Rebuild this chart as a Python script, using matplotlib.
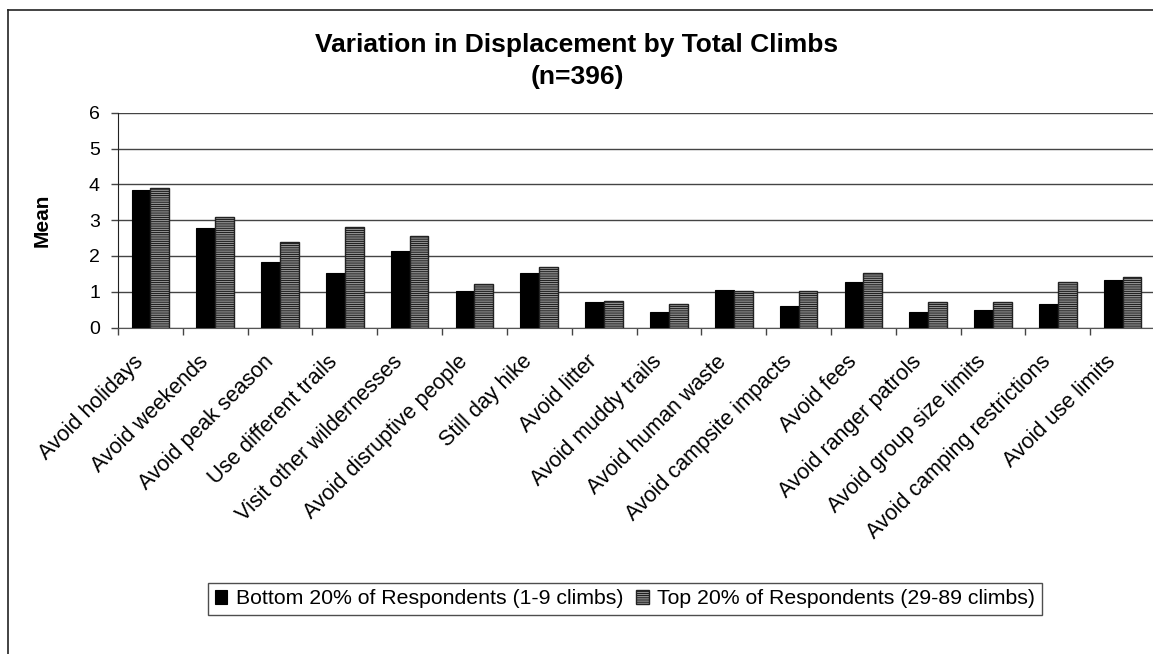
import matplotlib
matplotlib.use('Agg')
import matplotlib.pyplot as plt
from matplotlib.lines import Line2D
from matplotlib.transforms import ScaledTranslation
import numpy as np

plt.rcParams['font.family'] = ['Liberation Sans', 'DejaVu Sans']
plt.rcParams['hatch.color'] = '#3a3a3a'
plt.rcParams['hatch.linewidth'] = 0.9

# Mean displacement score per coping behaviour
categories = ['Avoid holidays', 'Avoid weekends', 'Avoid peak season',
              'Use different trails', 'Visit other wildernesses',
              'Avoid disruptive people', 'Still day hike', 'Avoid litter',
              'Avoid muddy trails', 'Avoid human waste', 'Avoid campsite impacts',
              'Avoid fees', 'Avoid ranger patrols', 'Avoid group size limits',
              'Avoid camping restrictions', 'Avoid use limits']
bottom_20 = [3.84, 2.78, 1.84, 1.53, 2.15, 1.03, 1.53, 0.71,
             0.44, 1.06, 0.60, 1.26, 0.44, 0.48, 0.67, 1.33]
top_20 = [3.90, 3.08, 2.38, 2.81, 2.57, 1.21, 1.68, 0.74,
          0.67, 1.03, 1.03, 1.53, 0.71, 0.71, 1.26, 1.42]
series_names = ['Bottom 20% of Respondents (1-9 climbs)',
                'Top 20% of Respondents (29-89 climbs)']
yticks = [0, 1, 2, 3, 4, 5, 6]

W, H = 1153, 654
fig = plt.figure(figsize=(W / 100, H / 100), dpi=100)
ax = fig.add_axes([118 / W, 1 - 327.5 / H, 1037 / W, 214.7 / H])

x = np.arange(len(categories))
bw = 0.29
ax.bar(x - bw / 2, bottom_20, bw, color='black', edgecolor='black',
       linewidth=0.8, label=series_names[0], zorder=3)
ax.bar(x + bw / 2, top_20, bw, color='#d8d8d8', edgecolor='#222222',
       linewidth=1.0, hatch='---------', label=series_names[1], zorder=3)

ax.set_xlim(-0.5, len(categories) - 0.5)
ax.set_ylim(0, 6)
ax.set_yticks(yticks)
ax.yaxis.grid(True, color='#444444', linewidth=1.0)
ax.set_axisbelow(True)

# tick marks between categories, rotated names hung under each group
ax.set_xticks(np.arange(len(categories) + 1) - 0.5)
ax.set_xticklabels([])
ax.tick_params(axis='x', length=5, width=1, color='#444444', direction='out')
label_trans = ax.get_xaxis_transform() + ScaledTranslation(-10 / 100, -31 / 100,
                                                           fig.dpi_scale_trans)
for i, name in enumerate(categories):
    ax.text(i, 0, name, transform=label_trans, rotation=45, ha='right',
            va='center', rotation_mode='anchor', fontsize=15.5)

ax.tick_params(axis='y', length=5, width=1, color='#444444',
               labelsize=14, pad=8)

for side in ['top', 'right']:
    ax.spines[side].set_visible(False)
ax.spines['left'].set_color('#222222')
ax.spines['bottom'].set_color('#555555')

fig.text(42 / W, 1 - 220 / H, 'Mean', rotation=90, fontsize=15,
         fontweight='bold', ha='center', va='center')
fig.text(577 / W, 1 - 61 / H, 'Variation in Displacement by Total Climbs\n(n=396)',
         ha='center', va='center', fontsize=19, fontweight='bold',
         linespacing=1.38)

leg = fig.legend(loc='center', bbox_to_anchor=(625 / W, 1 - 599 / H), ncol=2,
                 fontsize=15.3, frameon=True, fancybox=False, handlelength=0.6,
                 handleheight=0.6, handletextpad=0.4, columnspacing=0.6,
                 borderpad=0.3, borderaxespad=0)
leg.get_frame().set_edgecolor('#222222')
leg.get_frame().set_linewidth(1.0)

# chart frame
fig.add_artist(Line2D([8 / W, 8 / W], [0, 1 - 10 / H], color='#222222',
                      linewidth=1.2, transform=fig.transFigure))
fig.add_artist(Line2D([8 / W, 1], [1 - 10 / H, 1 - 10 / H], color='#222222',
                      linewidth=1.2, transform=fig.transFigure))

fig.savefig('out.png', dpi=100)
